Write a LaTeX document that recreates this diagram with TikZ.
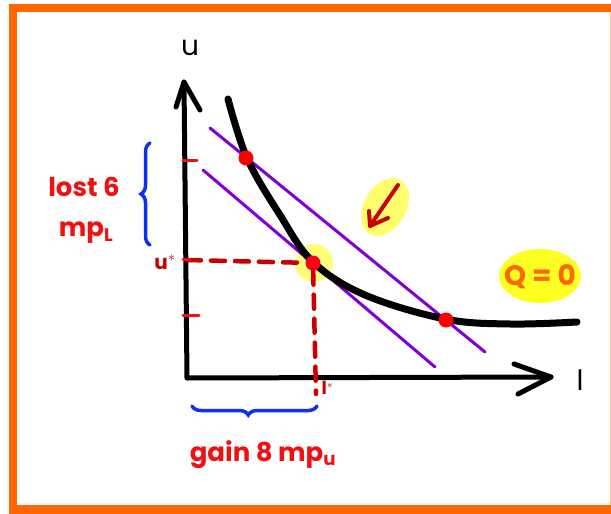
\documentclass[tikz,border=0pt]{standalone}
\usepackage{fontspec}
\setmainfont{Poppins}
\usetikzlibrary{decorations.pathreplacing,arrows.meta}
\definecolor{frameor}{HTML}{FF6600}
\definecolor{hl}{HTML}{FFFF55}
\definecolor{hlq}{HTML}{FFFF22}
\definecolor{redtxt}{HTML}{F01010}
\definecolor{darkred}{HTML}{C80000}
\definecolor{purp}{HTML}{8000D8}
\definecolor{bluebr}{HTML}{1030F0}
\tikzset{
  axisline/.style={line width=5pt, line cap=round, line join=round},
  budget/.style={purp, line width=3pt, line cap=round},
  dashedred/.style={darkred, line width=4.5pt, line cap=round, dash pattern=on 14pt off 10pt},
  tickred/.style={redtxt, line width=3pt, line cap=round},
  dotred/.style={circle, fill=red, inner sep=0pt, minimum size=15pt},
  bracestyle/.style={bluebr, line width=3.5pt, line cap=round, decorate},
  redlabel/.style={text=redtxt, font=\fontsize{26}{28}\selectfont\bfseries},
  axlabel/.style={font=\fontsize{28}{30}\selectfont},
}
\begin{document}
\begin{tikzpicture}[x=1pt,y=-1pt]
\useasboundingbox (0,0) rectangle (611,514);
\fill[white] (0,0) rectangle (611,514);
% frame
\fill[frameor] (9,4) rectangle (611,12);
\fill[frameor] (9,4) rectangle (17,514);
\fill[frameor] (9,505) rectangle (611,514);
\draw[frameor!40, line width=1pt] (610,12) -- (610,505);
% highlights
\fill[hl, opacity=0.85, rotate around={-30:(385,207)}] (385,207) ellipse (21pt and 31pt);
\fill[hlq] (540,276) ellipse (41pt and 27pt);
\fill[hl, opacity=0.8] (314,263) circle (19pt);
% coordinates
\coordinate (O) at (187,378);
\coordinate (Ytop) at (184,82);
\coordinate (Xend) at (551,377);
% axes
\draw[axisline] (Ytop) -- (O) -- (Xend);
\draw[axisline] (176,107) -- (Ytop) -- (200,110);
\draw[axisline] (514,364) -- (Xend) -- (518,394);
\node[axlabel] (ylab) at (190,48) {u};
\node[axlabel] (xlab) at (580,380) {l};
% budget lines
\coordinate (b1s) at (210,128); \coordinate (b1e) at (485,352);
\coordinate (b2s) at (203,170); \coordinate (b2e) at (435,367);
\draw[budget] (b1s) -- (b1e);
\draw[budget] (b2s) -- (b2e);
% isoquant
\draw[line width=7pt, line cap=round] plot[smooth, tension=0.6] coordinates
 {(228,99) (247,158) (280,215) (313,262) (365,295) (445,319) (510,324) (577,322)};
% dots
\node[dotred] (A) at (246,158) {};
\node[dotred, fill=red!90!magenta] (E) at (313,263) {};
\node[dotred] (B) at (446,320) {};
% dashed guides
\coordinate (Ky) at (187,260);
\coordinate (Lx) at (316,394);
\draw[dashedred] (Ky) -- (E);
\draw[dashedred] (E) -- (Lx);
% ticks
\draw[tickred] (183,160) -- (197,160);
\draw[tickred] (183,315) -- (199,315);
\draw[tickred] (183,259) -- (190,259);
\node[text=darkred, font=\fontsize{20}{22}\selectfont\bfseries] (ks) at (165,262) {u$^{*}$};
\node[text=darkred, font=\fontsize{18}{20}\selectfont\bfseries, anchor=west] (ls) at (318,388) {l$^{*}$};
% arrow
\draw[darkred, line width=4pt, line cap=round, line join=round] (398,185) -- (370,226);
\draw[darkred, line width=4pt, line cap=round, line join=round] (369,211) -- (370,226) -- (388,218);
% Q=0
\node[text=frameor, font=\fontsize{28}{30}\selectfont\bfseries] (Q) at (540,277) {Q = 0};
% braces
\coordinate (lb1) at (150,245); \coordinate (lb2) at (150,143);
\draw[bracestyle, decoration={brace, amplitude=9pt}] (lb1) -- (lb2);
\coordinate (bb1) at (192,406); \coordinate (bb2) at (317,406);
\draw[bracestyle, decoration={brace, amplitude=9pt, mirror, aspect=0.45}] (bb1) -- (bb2);
% labels
\node[redlabel] (lost) at (84,187) {lost 6};
\node[redlabel] (mpl) at (86,233) {mp\textsubscript{L}};
\node[redlabel] (gain) at (263,455) {gain 8 mp\textsubscript{u}};
\end{tikzpicture}
\end{document}
